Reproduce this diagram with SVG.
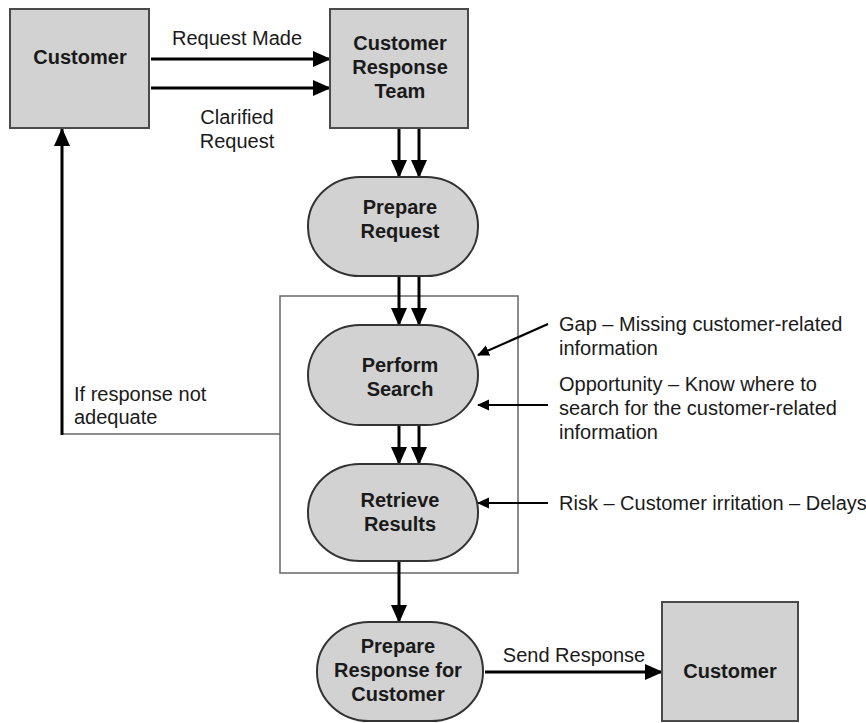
<svg xmlns="http://www.w3.org/2000/svg" width="866" height="723" viewBox="0 0 866 723">
<style>
.box{fill:#d2d2d2;stroke:#4a4a4a;stroke-width:2}
.term{fill:#d2d2d2;stroke:#333;stroke-width:2}
.b{font-family:"Liberation Sans",Arial,sans-serif;font-weight:bold;font-size:20px;fill:#1a1a1a;text-anchor:middle}
.t{font-family:"Liberation Sans",Arial,sans-serif;font-size:20px;fill:#1a1a1a}
.tm{text-anchor:middle}
.thick{stroke:#000;stroke-width:3;fill:none}
.thin{stroke:#666;stroke-width:1.5;fill:none}
.ann{stroke:#000;stroke-width:2.2;fill:none}
</style>
<defs>
<marker id="ah" markerUnits="userSpaceOnUse" markerWidth="18" markerHeight="16" refX="17" refY="8" orient="auto">
<path d="M0,0 L18,8 L0,16 Z" fill="#000"/>
</marker>
<marker id="as" markerUnits="userSpaceOnUse" markerWidth="12" markerHeight="12" refX="11" refY="6" orient="auto">
<path d="M0,0.5 L12,6 L0,11.5 Z" fill="#000"/>
</marker>
</defs>

<g id="container">
<rect x="280" y="296" width="238" height="277" class="thin"/>
</g>

<g id="connectors">
<line x1="151" y1="59" x2="330" y2="59" class="thick" marker-end="url(#ah)"/>
<line x1="151" y1="88" x2="330" y2="88" class="thick" marker-end="url(#ah)"/>
<line x1="399" y1="128" x2="399" y2="177" class="thick" marker-end="url(#ah)"/>
<line x1="419" y1="128" x2="419" y2="177" class="thick" marker-end="url(#ah)"/>
<line x1="399" y1="276" x2="399" y2="325" class="thick" marker-end="url(#ah)"/>
<line x1="419" y1="276" x2="419" y2="325" class="thick" marker-end="url(#ah)"/>
<line x1="399" y1="425" x2="399" y2="464" class="thick" marker-end="url(#ah)"/>
<line x1="419" y1="425" x2="419" y2="464" class="thick" marker-end="url(#ah)"/>
<line x1="399" y1="561" x2="399" y2="622" class="thick" marker-end="url(#ah)"/>
<line x1="485" y1="672" x2="662" y2="672" class="thick" marker-end="url(#ah)"/>
<line x1="280" y1="434" x2="62" y2="434" class="thin"/>
<line x1="62" y1="435" x2="62" y2="129" class="thick" marker-end="url(#ah)"/>
<line x1="548" y1="324" x2="478" y2="355" class="ann" marker-end="url(#as)"/>
<line x1="548" y1="405" x2="478" y2="405" class="ann" marker-end="url(#as)"/>
<line x1="548" y1="503" x2="478" y2="503" class="ann" marker-end="url(#as)"/>
<text class="t tm" x="237" y="45">Request Made</text>
<text class="t tm" x="237" y="124">Clarified</text>
<text class="t tm" x="237" y="148">Request</text>
<text class="t" x="74" y="401">If response not</text>
<text class="t" x="74" y="424">adequate</text>
<text class="t tm" x="574" y="662">Send Response</text>
</g>

<g id="customer1">
<rect x="10" y="9" width="139" height="119" class="box"/>
<text class="b" x="80" y="64">Customer</text>
</g>

<g id="crt">
<rect x="330" y="9" width="138" height="119" class="box"/>
<text class="b" x="400" y="50">Customer</text>
<text class="b" x="400" y="74">Response</text>
<text class="b" x="400" y="98">Team</text>
</g>

<g id="prepare-request">
<rect x="308" y="177" width="170" height="99" rx="52" ry="49" class="term"/>
<text class="b" x="400" y="214">Prepare</text>
<text class="b" x="400" y="238">Request</text>
</g>

<g id="perform-search">
<rect x="308" y="325" width="170" height="100" rx="52" ry="50" class="term"/>
<text class="b" x="400" y="372">Perform</text>
<text class="b" x="400" y="396">Search</text>
</g>

<g id="retrieve-results">
<rect x="308" y="464" width="170" height="97" rx="52" ry="48" class="term"/>
<text class="b" x="400" y="507">Retrieve</text>
<text class="b" x="400" y="531">Results</text>
</g>

<g id="prepare-response">
<rect x="317" y="622" width="166" height="99" rx="52" ry="49" class="term"/>
<text class="b" x="398" y="653">Prepare</text>
<text class="b" x="398" y="677">Response for</text>
<text class="b" x="398" y="701">Customer</text>
</g>

<g id="customer2">
<rect x="662" y="602" width="136" height="119" class="box"/>
<text class="b" x="730" y="678">Customer</text>
</g>

<g id="annotations">
<text class="t" x="559" y="331">Gap – Missing customer-related</text>
<text class="t" x="559" y="355">information</text>
<text class="t" x="559" y="391">Opportunity – Know where to</text>
<text class="t" x="559" y="415">search for the customer-related</text>
<text class="t" x="559" y="439">information</text>
<text class="t" x="559" y="510">Risk – Customer irritation – Delays</text>
</g>
</svg>
